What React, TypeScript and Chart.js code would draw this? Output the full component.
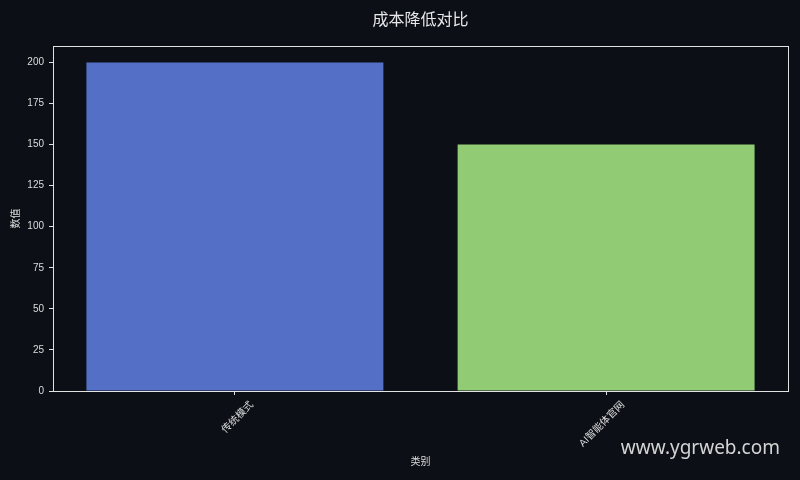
import { useEffect, useRef } from "react";
import { Chart, registerables } from "chart.js";
import type { Plugin } from "chart.js";

Chart.register(...registerables);

const categories = ["传统模式", "AI智能体官网"];
const values = [200, 150];
const barColors = ["#5470c6", "#91cc75"];
const yTicks = [0, 25, 50, 75, 100, 125, 150, 175, 200];

const BG = "#0c0f16";
const FG = "#dcdcdc";
const FONT = "'Noto Sans CJK SC', 'Noto Sans', sans-serif";
const TICK_FONT = "'Liberation Sans', 'Noto Sans CJK SC', sans-serif";
const SPINE = "#e2e2e2";

const framePlugin: Plugin = {
  id: "frame",
  beforeDraw(chart) {
    const { ctx, width, height } = chart;
    ctx.save();
    ctx.fillStyle = BG;
    ctx.fillRect(0, 0, width, height);
    ctx.restore();
  },
  afterDatasetsDraw(chart) {
    const { ctx, chartArea: a } = chart;
    const l = Math.round(a.left) + 0.5;
    const t = Math.round(a.top) + 0.5;
    const r = Math.round(a.right) + 0.5;
    const b = Math.round(a.bottom) + 0.5;
    ctx.save();
    ctx.strokeStyle = SPINE;
    ctx.lineWidth = 1;
    ctx.strokeRect(l, t, r - l, b - t);
    ctx.restore();
  },
  afterDraw(chart) {
    const { ctx } = chart;
    ctx.save();
    ctx.font = "19px 'Noto Sans', sans-serif";
    ctx.fillStyle = "#d4d4d4";
    ctx.textAlign = "right";
    ctx.textBaseline = "alphabetic";
    ctx.fillText("www.ygrweb.com", 780, 454);
    ctx.restore();
  },
};

const App = () => {
  const canvasRef = useRef<HTMLCanvasElement>(null);

  useEffect(() => {
    document.body.style.margin = "0";
    document.body.style.background = BG;
    if (!canvasRef.current) return;

    const chart = new Chart(canvasRef.current, {
      type: "bar",
      data: {
        datasets: [
          {
            label: "数值",
            data: categories.map((c, i) => ({ x: i, y: values[i] })),
            backgroundColor: barColors,
            borderWidth: 0,
            categoryPercentage: 1,
            barPercentage: 0.8,
          },
        ],
      },
      options: {
        animation: false,
        responsive: true,
        maintainAspectRatio: false,
        layout: { padding: { left: 0, right: 12, top: 0, bottom: 0 } },
        plugins: {
          legend: { display: false },
          tooltip: { enabled: false },
          title: {
            display: true,
            fullSize: false,
            text: "成本降低对比",
            color: "#e8e8e8",
            font: { family: FONT, size: 16, weight: "normal" },
            padding: { top: 9.4, bottom: 17.4 },
          },
        },
        scales: {
          x: {
            type: "linear",
            min: -0.49,
            max: 1.49,
            offset: false,
            afterBuildTicks: (scale) => {
              scale.ticks = categories.map((_, i) => ({ value: i }));
            },
            afterFit: (scale) => {
              scale.height = 89;
            },
            grid: {
              display: true,
              offset: false,
              drawOnChartArea: false,
              tickLength: 4,
              tickColor: SPINE,
            },
            border: { display: false },
            ticks: {
              color: FG,
              font: { family: TICK_FONT, size: 10 },
              minRotation: 45,
              maxRotation: 45,
              autoSkip: false,
              padding: 4,
              labelOffset: 17,
              callback: (v) => categories[Number(v)] ?? "",
            },
            title: {
              display: true,
              text: "类别",
              color: FG,
              font: { family: FONT, size: 10 },
              padding: { top: 13, bottom: 13 },
            },
          },
          y: {
            min: 0,
            max: 210,
            afterBuildTicks: (scale) => {
              scale.ticks = yTicks.map((v) => ({ value: v }));
            },
            afterFit: (scale) => {
              scale.width = 53;
            },
            grid: {
              display: true,
              drawOnChartArea: false,
              tickLength: 4,
              tickColor: SPINE,
            },
            border: { display: false },
            ticks: {
              color: FG,
              font: { family: TICK_FONT, size: 10 },
              padding: 5,
            },
            title: {
              display: true,
              text: "数值",
              color: FG,
              font: { family: FONT, size: 10 },
              padding: { top: 9, bottom: 0 },
            },
          },
        },
      },
      plugins: [framePlugin],
    });

    return () => {
      chart.destroy();
    };
  }, []);

  return (
    <div style={{ position: "relative", width: 800, height: 480 }}>
      <canvas ref={canvasRef} />
    </div>
  );
};

export default App;
